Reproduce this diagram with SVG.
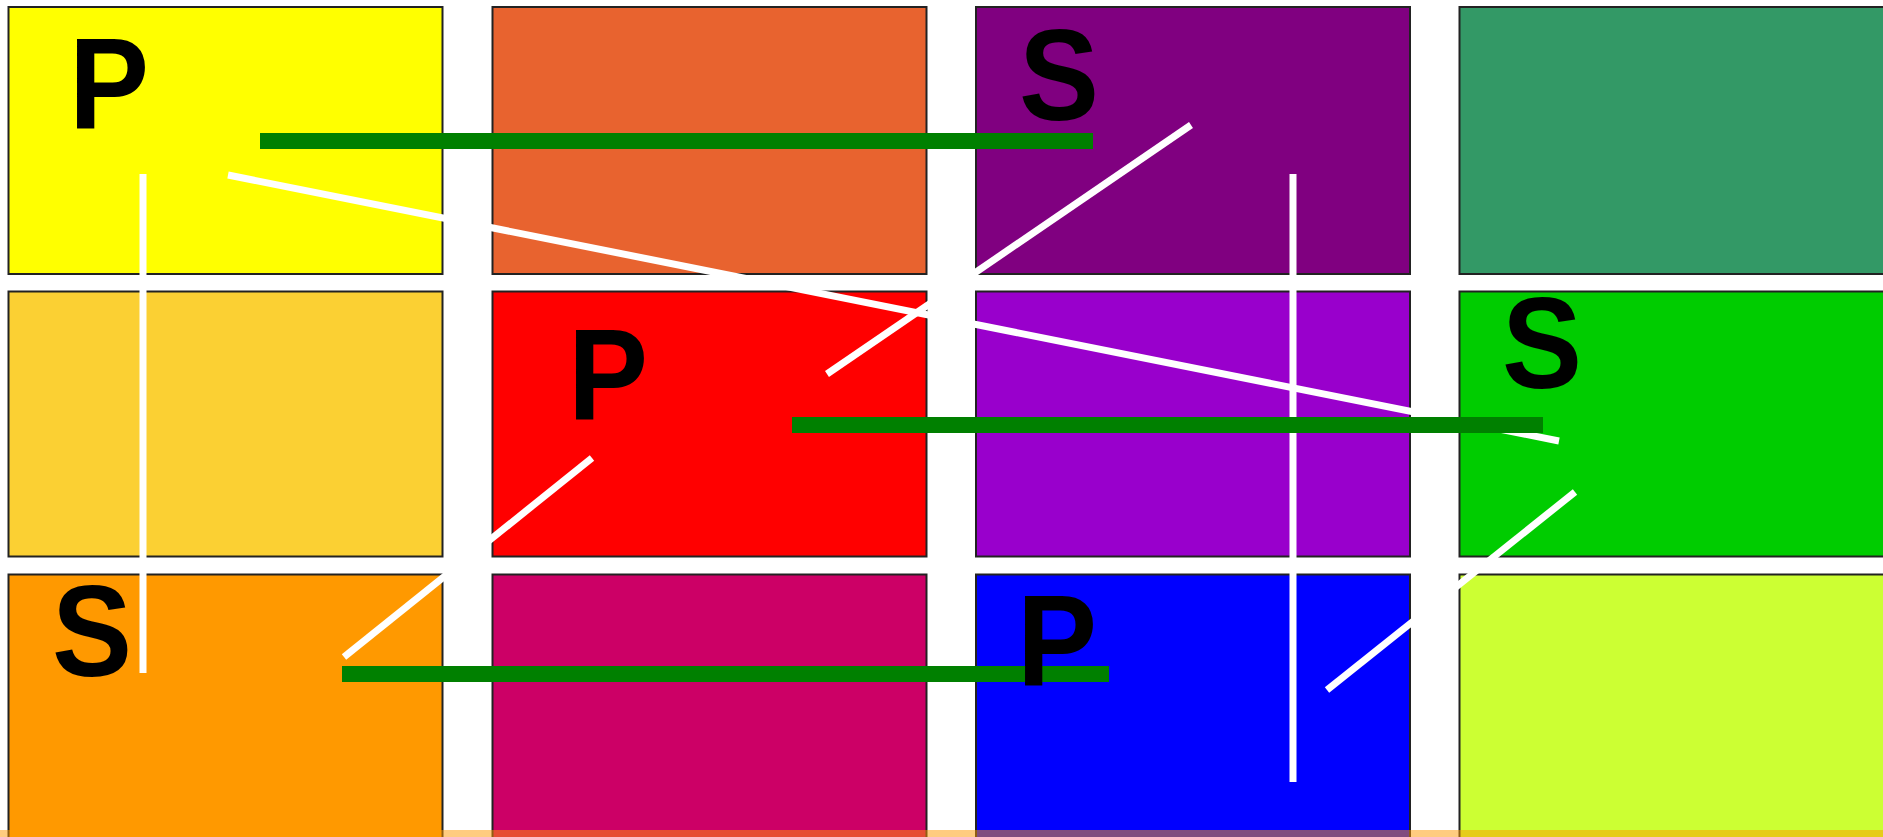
<svg xmlns="http://www.w3.org/2000/svg" width="1883" height="837" viewBox="0 0 1883 837">
<style>
.cell{stroke:#222;stroke-width:2}
.w{stroke:#fff;stroke-width:7;stroke-linecap:butt;fill:none}
.g{stroke:#008000;stroke-width:16;stroke-linecap:butt;fill:none}
.lbl{font-family:"Liberation Sans",Arial,sans-serif;font-weight:bold;font-size:120px;fill:#000}
</style>
<rect width="1883" height="837" fill="#fff"/>
<g id="nodes">
<g id="r1c1"><rect class="cell" x="8.5" y="7" width="434" height="267" fill="#FFFF00"/></g>
<g id="r1c2"><rect class="cell" x="492.5" y="7" width="434" height="267" fill="#E8632F"/></g>
<g id="r1c3"><rect class="cell" x="976" y="7" width="434" height="267" fill="#800080"/></g>
<g id="r1c4"><rect class="cell" x="1459.5" y="7" width="434" height="267" fill="#339966"/></g>
<g id="r2c1"><rect class="cell" x="8.5" y="291.5" width="434" height="265" fill="#FBD033"/></g>
<g id="r2c2"><rect class="cell" x="492.5" y="291.5" width="434" height="265" fill="#FF0000"/></g>
<g id="r2c3"><rect class="cell" x="976" y="291.5" width="434" height="265" fill="#9900CC"/></g>
<g id="r2c4"><rect class="cell" x="1459.5" y="291.5" width="434" height="265" fill="#00CC00"/></g>
<g id="r3c1"><rect class="cell" x="8.5" y="574.5" width="434" height="267" fill="#FF9900"/></g>
<g id="r3c2"><rect class="cell" x="492.5" y="574.5" width="434" height="267" fill="#CC0066"/></g>
<g id="r3c3"><rect class="cell" x="976" y="574.5" width="434" height="267" fill="#0000FF"/></g>
<g id="r3c4"><rect class="cell" x="1459.5" y="574.5" width="434" height="267" fill="#CCFF33"/></g>
</g>
<g id="connectors">
<line class="w" x1="143" y1="174" x2="143" y2="673"/>
<line class="w" x1="1293" y1="174" x2="1293" y2="782"/>
<line class="w" x1="228" y1="175" x2="1559" y2="441"/>
<line class="w" x1="1191" y1="125" x2="827" y2="374"/>
<line class="w" x1="592" y1="458" x2="344" y2="657"/>
<line class="w" x1="1575" y1="492" x2="1327" y2="690"/>
<line class="g" x1="260" y1="141" x2="1093" y2="141"/>
<line class="g" x1="792" y1="425" x2="1543" y2="425"/>
<line class="g" x1="342" y1="674" x2="1109" y2="674"/>
</g>
<g id="labels">
<text class="lbl" transform="translate(69,129) scale(1,1.08)">P</text>
<text class="lbl" transform="translate(1019,120) scale(1,1.08)">S</text>
<text class="lbl" transform="translate(568,420) scale(1,1.08)">P</text>
<text class="lbl" transform="translate(1502,388) scale(1,1.08)">S</text>
<text class="lbl" transform="translate(52,676) scale(1,1.08)">S</text>
<text class="lbl" transform="translate(1017,686) scale(1,1.08)">P</text>
</g>
<rect id="band" x="0" y="830" width="1883" height="7" fill="#FF9900" opacity="0.5"/>
</svg>
